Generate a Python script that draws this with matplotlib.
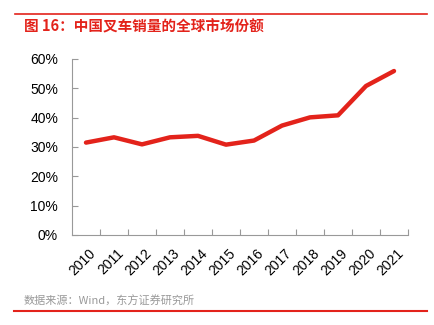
import matplotlib
matplotlib.use('Agg')
import matplotlib.pyplot as plt
from matplotlib.lines import Line2D
from matplotlib.ticker import FuncFormatter

plt.rcParams['font.family'] = ['Liberation Sans', 'Noto Sans CJK SC', 'DejaVu Sans']

years = ['2010', '2011', '2012', '2013', '2014', '2015',
         '2016', '2017', '2018', '2019', '2020', '2021']
share = [31.5, 33.3, 30.9, 33.3, 33.8, 30.8, 32.2, 37.3, 40.1, 40.8, 50.8, 55.9]

title = '图 16：中国叉车销量的全球市场份额'
source = '数据来源：Wind，东方证券研究所'

W, H = 434, 325
fig = plt.figure(figsize=(W / 100, H / 100), dpi=100)
ax = fig.add_axes([72 / W, 1 - 235 / H, 336 / W, 176 / H])

x = list(range(len(years)))
ax.plot(x, share, color='#E3231B', lw=3.2, solid_capstyle='round')

ax.set_xlim(-0.5, len(years) - 0.5)
ax.set_ylim(0, 60)
ax.set_yticks(range(0, 61, 10))
ax.yaxis.set_major_formatter(FuncFormatter(lambda v, p: '{:.0f}%'.format(v)))
ax.set_xticks([i + 0.5 for i in x])
ax.set_xticklabels([])
for i, y in enumerate(years):
    ax.text(i + 0.1, -3.8, y, rotation=45, ha='right', va='top',
            rotation_mode='anchor', fontsize=10,
            transform=ax.transData)

for s in ['top', 'right']:
    ax.spines[s].set_visible(False)
for s in ['left', 'bottom']:
    ax.spines[s].set_color('#999999')
    ax.spines[s].set_linewidth(0.8)
ax.tick_params(axis='both', direction='in', color='#999999', length=4, width=0.8)
ax.tick_params(axis='y', labelsize=10, pad=10)

# header / footer
fig.add_artist(Line2D([15 / W, 427 / W], [1 - 14 / H, 1 - 14 / H], color='#E3231B', lw=1.2))
fig.text(24 / W, 1 - 26 / H, title, color='#E3231B', fontsize=10.5, fontweight='bold',
         va='center', ha='left', family=['Noto Sans CJK SC', 'DejaVu Sans'])
fig.text(24 / W, 1 - 301 / H, source, color='#999999', fontsize=8,
         va='center', ha='left', family=['Noto Sans CJK SC', 'DejaVu Sans'])
fig.add_artist(Line2D([14 / W, 427 / W], [1 - 311 / H, 1 - 311 / H], color='#E3231B', lw=1.5))

fig.savefig('out.png', dpi=100)
